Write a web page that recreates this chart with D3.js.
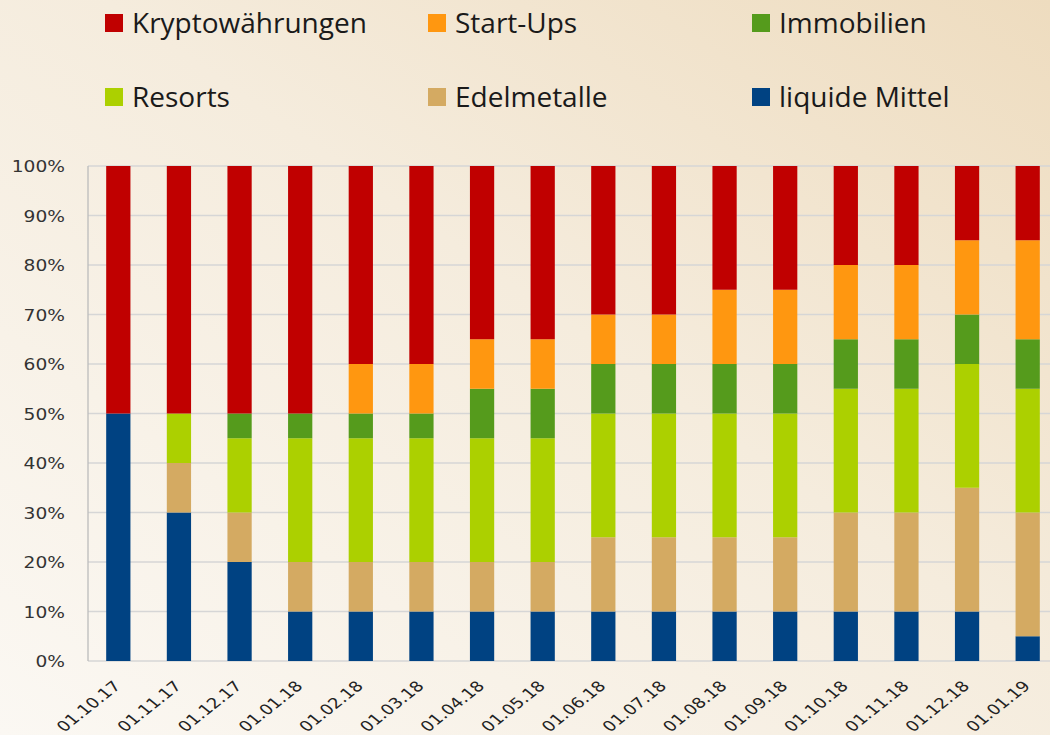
<!DOCTYPE html>
<html><head><meta charset="utf-8">
<script src="https://cdn.jsdelivr.net/npm/d3@7"></script>
<style>body{margin:0;overflow:hidden;}svg{display:block;}</style>
</head><body>
<script>
const categories = ["01.10.17","01.11.17","01.12.17","01.01.18","01.02.18","01.03.18","01.04.18","01.05.18","01.06.18","01.07.18","01.08.18","01.09.18","01.10.18","01.11.18","01.12.18","01.01.19"];
const seriesNames = ["liquide Mittel","Edelmetalle","Resorts","Immobilien","Start-Ups","Kryptowährungen"];
const liquideMittel   = [50,30,20,10,10,10,10,10,10,10,10,10,10,10,10,5];
const edelmetalle     = [0,10,10,10,10,10,10,10,15,15,15,15,20,20,25,25];
const resorts         = [0,10,15,25,25,25,25,25,25,25,25,25,25,25,25,25];
const immobilien      = [0,0,5,5,5,5,10,10,10,10,10,10,10,10,10,10];
const startUps        = [0,0,0,0,10,10,10,10,10,10,15,15,15,15,15,20];
const krypto          = [50,50,50,50,40,40,35,35,30,30,25,25,20,20,15,15];
const yTicks = [0,10,20,30,40,50,60,70,80,90,100];
const colors = {"Kryptowährungen":"#c00000","Start-Ups":"#ff9710","Immobilien":"#559b1c","Resorts":"#acd000","Edelmetalle":"#d4aa62","liquide Mittel":"#004282"};
const legendOrder = ["Kryptowährungen","Start-Ups","Immobilien","Resorts","Edelmetalle","liquide Mittel"];

const W=1050,H=735;
const svg=d3.select("body").append("svg").attr("width",W).attr("height",H);
const defs=svg.append("defs");
const g=defs.append("linearGradient").attr("id","bg").attr("x1","0%").attr("y1","100%").attr("x2","100%").attr("y2","0%");
g.append("stop").attr("offset","0%").attr("stop-color","#fbf8f3");
g.append("stop").attr("offset","55%").attr("stop-color","#f5ecdd");
g.append("stop").attr("offset","100%").attr("stop-color","#eedcbf");
svg.append("rect").attr("width",W).attr("height",H).attr("fill","url(#bg)");

const table = categories.map((c,i)=>({cat:c,"liquide Mittel":liquideMittel[i],"Edelmetalle":edelmetalle[i],"Resorts":resorts[i],"Immobilien":immobilien[i],"Start-Ups":startUps[i],"Kryptowährungen":krypto[i]}));
const stack=d3.stack().keys(seriesNames)(table);

const x=d3.scaleBand().domain(categories).range([88,1058]).paddingInner(0.6).paddingOuter(0.3);
const y=d3.scaleLinear().domain([0,100]).range([661,166]);

// gridlines
svg.append("g").selectAll("line").data(yTicks).join("line")
  .attr("x1",88).attr("x2",W).attr("y1",d=>y(d)).attr("y2",d=>y(d))
  .attr("stroke","#d6d6d6").attr("stroke-width",1.3);
// left axis line
svg.append("line").attr("x1",88).attr("x2",88).attr("y1",166).attr("y2",661).attr("stroke","#bcbcbc").attr("stroke-width",1.3);

// bars
svg.append("g").selectAll("g").data(stack).join("g").attr("fill",d=>colors[d.key])
  .selectAll("rect").data(d=>d).join("rect")
  .attr("x",d=>x(d.data.cat)).attr("width",x.bandwidth())
  .attr("y",d=>y(d[1])).attr("height",d=>y(d[0])-y(d[1]));

// y axis labels
const yAxis=d3.axisLeft(y).tickValues(yTicks).tickFormat(d=>d+"%").tickSize(0).tickPadding(0);
const ya=svg.append("g").attr("transform","translate(65,0)").call(yAxis);
ya.select(".domain").remove();
ya.selectAll("text").attr("font-family","DejaVu Sans, sans-serif").attr("font-size","16.5px").attr("fill","#333").attr("dy","0.35em")
  .attr("transform","scale(1.13,1)");

// x axis labels
const xAxis=d3.axisBottom(x).tickSize(0).tickPadding(0);
const xa=svg.append("g").attr("transform","translate(0,661)").call(xAxis);
xa.select(".domain").remove();
xa.selectAll("text").attr("font-family","DejaVu Sans, sans-serif").attr("font-size","14.5px").attr("fill","#222")
  .attr("text-anchor","end").attr("dy","0").attr("y",0)
  .attr("transform","translate(3.5,26) scale(1.26,1) rotate(-45)");

// legend
const legPos=[[105,14],[428,14],[752,14],[105,88],[428,88],[752,88]];
const lg=svg.append("g").selectAll("g").data(legendOrder).join("g")
  .attr("transform",(d,i)=>`translate(${legPos[i][0]},${legPos[i][1]})`);
lg.append("rect").attr("width",18).attr("height",18).attr("fill",d=>colors[d]);
lg.append("text").attr("x",27).attr("y",19).text(d=>d)
  .attr("font-family","Open Sans, sans-serif").attr("font-size","28px").attr("fill","#1a1a1a");
</script>
</body></html>
